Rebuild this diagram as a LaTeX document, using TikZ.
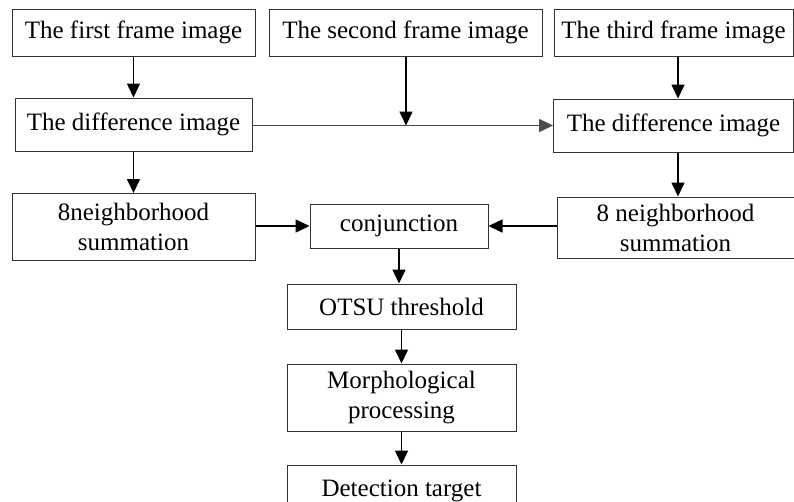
\documentclass[tikz,border=0pt]{standalone}
\usepackage{fontspec}
\setmainfont{Liberation Serif}
\usetikzlibrary{arrows.meta,calc}
\begin{document}
\begin{tikzpicture}[x=1pt,y=-1pt,
  box/.style={draw=black!80,line width=1pt,rectangle,inner sep=0pt,align=center,
    font=\fontsize{25}{30}\selectfont},
  arr/.style={line width=1.6pt,-{Triangle[length=14pt,width=13pt]}},
  garr/.style={line width=1.6pt,draw=black!70,-{Triangle[length=14pt,width=13pt,fill=black!70]}}]
\clip (0,0) rectangle (794,501);
\useasboundingbox (0,0) rectangle (794,501);
\fill[white] (0,0) rectangle (794,501);
\node[box,minimum width=243,minimum height=47] (b1) at (133.5,32.5) {The first frame image};
\node[box,minimum width=273,minimum height=47] (b2) at (405.5,32.5) {The second frame image};
\node[box,minimum width=239,minimum height=47] (b3) at (673.5,32.5) {The third frame image};
\node[box,minimum width=237,minimum height=53] (d1) at (133.5,124.5) {The difference image};
\node[box,minimum width=240,minimum height=53] (d2) at (673.5,125.5) {The difference image};
\node[box,minimum width=243,minimum height=67] (n1) at (133.5,227) {8neighborhood\\summation};
\node[box,minimum width=178,minimum height=44] (c) at (399,226) {conjunction};
\node[box,minimum width=237,minimum height=61] (n2) at (675.5,227.5) {8 neighborhood\\summation};
\node[box,minimum width=229,minimum height=45] (o) at (401.5,306.5) {OTSU threshold};
\node[box,minimum width=229,minimum height=67] (m) at (401.5,397.5) {Morphological\\processing};
\node[box,minimum width=229,minimum height=50,anchor=north] (t) at (401.5,464.5) {Detection target\strut};
\coordinate (j) at (406,125.5);
\draw[arr] (b1.south) -- (d1.north);
\draw[arr] (d1.south) -- (n1.north);
\draw[arr] (b3.south -| 678,0) -- (d2.north -| 678,0);
\draw[arr] (d2.south -| 678,0) -- (n2.north -| 678,0);
\draw[garr] (d1.east |- j) -- (d2.west |- j);
\draw[arr] (b2.south -| j) -- (j);
\draw[arr] (n1.east |- c.west) -- (c.west);
\draw[arr] (n2.west |- c.east) -- (c.east);
\draw[arr] (c.south) -- (c.south |- o.north);
\draw[arr] (o.south) -- (m.north);
\draw[arr] (m.south) -- (t.north);
\end{tikzpicture}
\end{document}
